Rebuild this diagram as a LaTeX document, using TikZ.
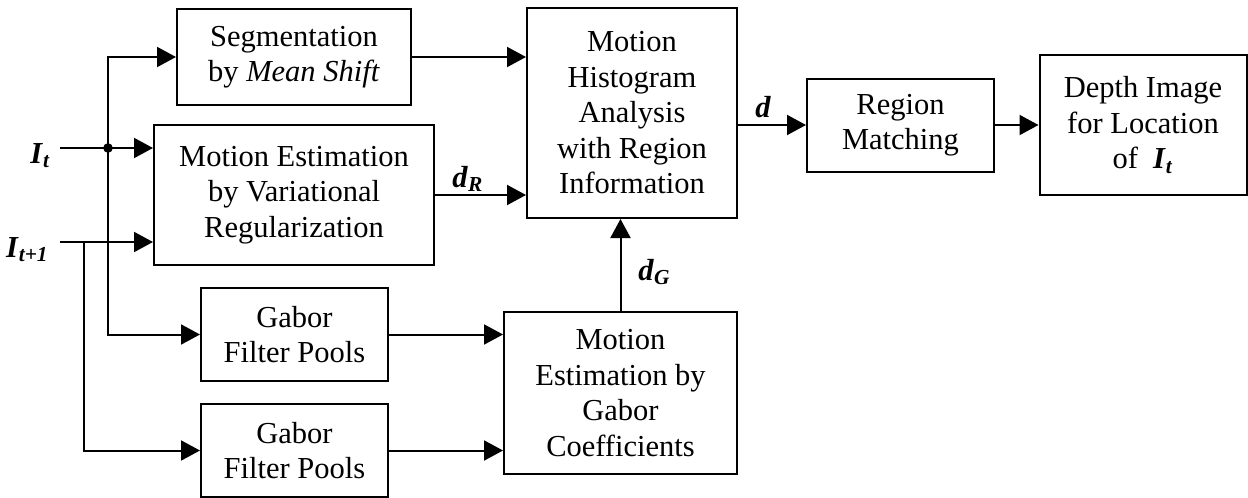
\documentclass[tikz,border=0pt]{standalone}
\usepackage{fontspec}
\setmainfont{Liberation Serif}
\usetikzlibrary{arrows.meta}
\newcommand{\bi}[1]{\textbf{\textit{#1}}}
\begin{document}
\begin{tikzpicture}[x=0.5pt,y=-0.5pt,
  txt/.style={font=\fontsize{15.25}{17.75}\selectfont},
  box/.style={draw,line width=1pt,align=center,inner sep=0pt,txt},
  lbl/.style={txt,inner sep=0pt},
  conn/.style={line width=1pt},
  arr/.style={conn,-{Triangle[length=9.5pt,width=10pt]}},
]
\useasboundingbox (0,0) rectangle (1248,498);
% boxes
\node[box,minimum width=117pt,minimum height=48pt] (seg) at (294,57) {Segmentation\\by \textit{Mean Shift}};
\node[box,minimum width=140pt,minimum height=70pt] (me) at (294,195) {Motion Estimation\\by Variational\\Regularization};
\node[box,minimum width=105pt,minimum height=105pt] (mh) at (632,113) {Motion\\Histogram\\Analysis\\with Region\\Information};
\node[box,minimum width=93.5pt,minimum height=46.5pt] (rm) at (900.5,125) {Region\\Matching};
\node[box,minimum width=103.5pt,minimum height=70pt] (depth) at (1143,125) {Depth Image\\for Location\\of~ \bi{I}\textsubscript{\bi{t}}};
\node[box,minimum width=93.5pt,minimum height=46.5pt] (gab1) at (294.5,334.5) {Gabor\\Filter Pools};
\node[box,minimum width=93.5pt,minimum height=46.5pt] (gab2) at (294.5,450.5) {Gabor\\Filter Pools};
\node[box,minimum width=116.5pt,minimum height=81pt] (mg) at (620.5,393) {Motion\\Estimation by\\Gabor\\Coefficients};
% inputs
\coordinate (it) at (60,148);
\coordinate (it1) at (60,242);
\coordinate (j) at (108,148);
\coordinate (k) at (84,242);
\node[lbl,anchor=base east] (itl) at (51,163) {\bi{I}\textsubscript{\bi{t}}};
\node[lbl,anchor=base east] (it1l) at (49,257) {\bi{I}\textsubscript{\bi{t+1}}};
% connectors
\draw[arr] (it) -- (it -| me.west);
\draw[arr] (it1) -- (it1 -| me.west);
\draw[arr] (j) |- (seg.west);
\draw[arr] (j) |- (gab1.west);
\draw[arr] (k) |- (gab2.west);
\fill (j) circle[radius=2.4pt];
\draw[arr] (seg.east) -- (seg.east -| mh.west);
\draw[arr] (me.east) -- (me.east -| mh.west);
\draw[arr] (mh.east |- rm.west) -- (rm.west);
\draw[arr] (rm.east) -- (rm.east -| depth.west);
\draw[arr] (gab1.east) -- (gab1.east -| mg.west);
\draw[arr] (gab2.east) -- (gab2.east -| mg.west);
\draw[arr] (mg.north) -- (mg.north |- mh.south);
% labels
\node[lbl,anchor=base west] (dr) at (452,187) {\bi{d}\textsubscript{\bi{R}}};
\node[lbl,anchor=base west] (dd) at (755,117) {\bi{d}};
\node[lbl,anchor=base west] (dg) at (638,280) {\bi{d}\textsubscript{\bi{G}}};
\end{tikzpicture}
\end{document}
